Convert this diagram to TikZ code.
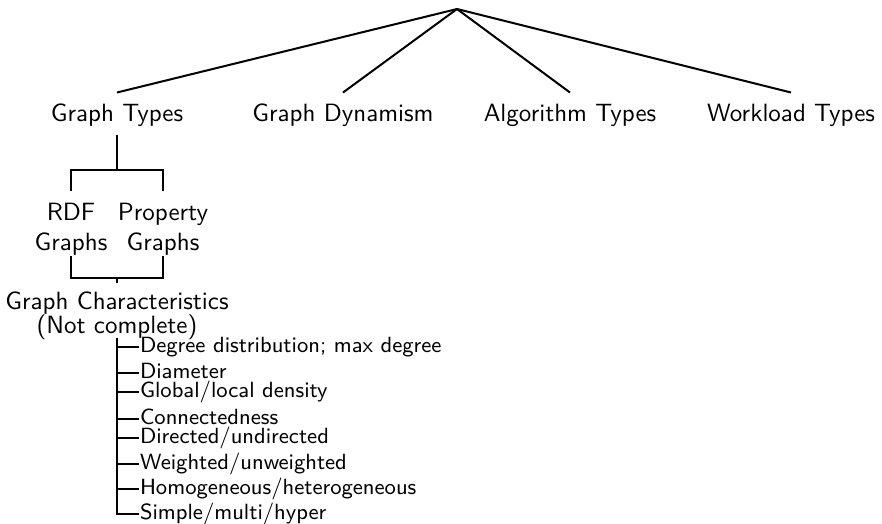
\documentclass[tikz,border=0pt]{standalone}
\begin{document}
\begin{tikzpicture}[x=0.4pt,y=-0.4pt,line width=0.8pt,
  every node/.style={font=\sffamily},
  cat/.style={inner xsep=0pt,inner ysep=4pt,text height=7pt,text depth=1pt,anchor=base},
  twoline/.style={align=center,inner sep=0pt},
  item/.style={font=\sffamily\fontsize{8.8}{10.5}\selectfont,anchor=west,inner sep=0pt,text height=6.4pt,text depth=1.8pt}]
\useasboundingbox (0,0) rectangle (882,523);

% root and the four top-level categories
\coordinate (root) at (457,9);
\node[cat] (gt) at (117,121) {Graph Types};
\node[cat] (gd) at (343,121) {Graph Dynamism};
\node[cat] (at) at (570,121) {Algorithm Types};
\node[cat] (wt) at (791,121) {Workload Types};
\foreach \n in {gt,gd,at,wt} \draw (root) -- (\n.north);

% graph type subdivisions
\node[twoline] (rdf) at (71,229) {RDF\\Graphs};
\node[twoline] (pg) at (163,229) {Property\\Graphs};
\coordinate (b1) at (117,170);
\draw (gt.south) -- (b1);
\draw ([yshift=4.4pt]rdf.north) |- (b1) -| ([yshift=4.4pt]pg.north);

% characteristics
\node[twoline] (gc) at (117,316) {Graph Characteristics\\[-2.4pt](Not complete)};
\coordinate (b2) at (117,278);
\draw (rdf.south) |- (b2) -| (pg.south);
\draw (b2) -- ([yshift=3.2pt]gc.north);

% list of characteristics
\node[item] (i1) at (139,347) {Degree distribution; max degree};
\node[item] (i2) at (139,373) {Diameter};
\node[item] (i3) at (139,392) {Global/local density};
\node[item] (i4) at (139,419) {Connectedness};
\node[item] (i5) at (139,438) {Directed/undirected};
\node[item] (i6) at (139,464) {Weighted/unweighted};
\node[item] (i7) at (139,489) {Homogeneous/heterogeneous};
\node[item] (i8) at (139,514) {Simple/multi/hyper};
\draw ([yshift=1pt]gc.south) |- (i8.west);
\foreach \n in {i1,i2,i3,i4,i5,i6,i7} \draw (gc.south |- \n.west) -- (\n.west);
\end{tikzpicture}
\end{document}
